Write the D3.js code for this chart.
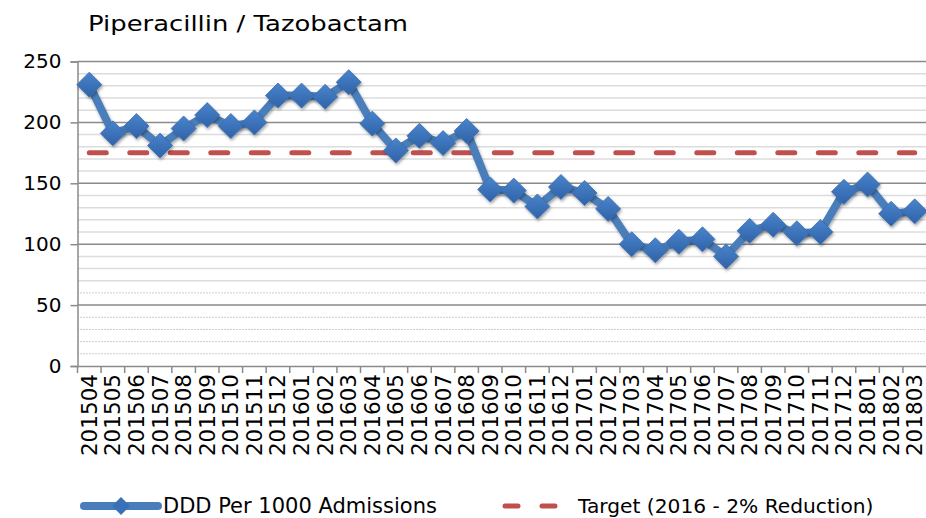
<!DOCTYPE html>
<html>
<head>
<meta charset="utf-8">
<script src="https://cdn.jsdelivr.net/npm/d3@7"></script>
<style>
  body { margin: 0; background: #fff; }
  svg { display: block; font-family: "DejaVu Sans", sans-serif; }
</style>
</head>
<body>
<div id="chart"></div>
<script>
// Data
const months = ["201504","201505","201506","201507","201508","201509","201510","201511","201512",
  "201601","201602","201603","201604","201605","201606","201607","201608","201609","201610","201611","201612",
  "201701","201702","201703","201704","201705","201706","201707","201708","201709","201710","201711","201712",
  "201801","201802","201803"];
const ddd = [231, 191, 197, 181, 195, 206, 197, 200, 222,
  222, 221, 233, 199, 177, 189, 183, 193, 145, 144, 131, 147,
  142, 129, 100, 95, 102, 104, 90, 111, 116, 109, 110, 143,
  149, 125, 127];
const target = 175;
const yTicks = [0, 50, 100, 150, 200, 250];
const solidMinor = [70, 80, 90, 110, 120, 130, 140, 160, 170, 180, 190, 210, 220, 230, 240];
const dottedMinor = [10, 20, 30, 40, 60];
const seriesNames = ["DDD Per 1000 Admissions", "Target (2016 - 2% Reduction)"];

// Chart constants
const width = 926, height = 518;
const plotLeft = 77.5, plotRight = 926.5, plotTop = 61.5, plotBottom = 366;

const svg = d3.select("#chart").append("svg")
  .attr("width", width)
  .attr("height", height);

const defs = svg.append("defs");
const grad = defs.append("linearGradient")
  .attr("id", "diamondFill")
  .attr("x1", 0).attr("y1", 0).attr("x2", 0).attr("y2", 1);
grad.append("stop").attr("offset", "0%").attr("stop-color", "#4a84cc");
grad.append("stop").attr("offset", "100%").attr("stop-color", "#2f62a8");
const shadow = defs.append("filter").attr("id", "shadow")
  .attr("x", "-50%").attr("y", "-50%").attr("width", "200%").attr("height", "200%");
shadow.append("feDropShadow")
  .attr("dx", 1).attr("dy", 2).attr("stdDeviation", 1.5)
  .attr("flood-color", "#000").attr("flood-opacity", 0.35);

const x = d3.scaleBand()
  .domain(months)
  .range([plotLeft, plotRight])
  .paddingInner(0)
  .paddingOuter(0);
const y = d3.scaleLinear()
  .domain([0, 250])
  .range([plotBottom, plotTop]);

// Title
svg.append("text")
  .attr("x", 88)
  .attr("y", 31)
  .attr("font-size", 21.5)
  .attr("fill", "#000")
  .attr("textLength", 320)
  .attr("lengthAdjust", "spacingAndGlyphs")
  .text("Piperacillin / Tazobactam");

// Gridlines
const grid = svg.append("g");
grid.selectAll("line.minor")
  .data(solidMinor)
  .join("line")
  .attr("class", "minor")
  .attr("x1", plotLeft).attr("x2", width)
  .attr("y1", d => y(d)).attr("y2", d => y(d))
  .attr("stroke", "#dcdcdc")
  .attr("stroke-width", 1.5);
grid.selectAll("line.dotted")
  .data(dottedMinor)
  .join("line")
  .attr("class", "dotted")
  .attr("x1", plotLeft).attr("x2", width)
  .attr("y1", d => y(d)).attr("y2", d => y(d))
  .attr("stroke", "#9a9a9a")
  .attr("stroke-width", 1)
  .attr("stroke-dasharray", "1 2");
grid.selectAll("line.major")
  .data(yTicks.filter(d => d > 0))
  .join("line")
  .attr("class", "major")
  .attr("x1", plotLeft).attr("x2", width)
  .attr("y1", d => y(d)).attr("y2", d => y(d))
  .attr("stroke", "#8a8a8a")
  .attr("stroke-width", 1.5);

// Y axis
const yAxis = d3.axisLeft(y)
  .tickValues(yTicks)
  .tickSize(7)
  .tickPadding(9);
const yg = svg.append("g")
  .attr("transform", `translate(${plotLeft},0)`)
  .call(yAxis);
yg.select(".domain").attr("stroke", "#8a8a8a").attr("stroke-width", 1.5);
yg.selectAll(".tick line").attr("stroke", "#8a8a8a").attr("stroke-width", 1.5);
yg.selectAll(".tick text")
  .attr("font-family", "DejaVu Sans")
  .attr("font-size", 20)
  .attr("fill", "#000");

// X axis
const xAxis = d3.axisBottom(x).tickSize(0).tickPadding(0);
const xg = svg.append("g")
  .attr("transform", `translate(0,${plotBottom})`)
  .call(xAxis);
xg.select(".domain").attr("stroke", "#8a8a8a").attr("stroke-width", 1.5);
xg.selectAll(".tick text")
  .attr("font-family", "DejaVu Sans")
  .attr("font-size", 21.5)
  .attr("fill", "#000")
  .attr("text-anchor", "end")
  .attr("dy", null)
  .attr("transform", "translate(0,8) rotate(-90)")
  .attr("x", 0)
  .attr("y", 0)
  .attr("dominant-baseline", "central");
xg.selectAll("line.boundary")
  .data(months)
  .join("line")
  .attr("class", "boundary")
  .attr("x1", d => x(d)).attr("x2", d => x(d))
  .attr("y1", 0).attr("y2", 7)
  .attr("stroke", "#8a8a8a")
  .attr("stroke-width", 1.5);

// Target line
svg.append("line")
  .attr("x1", x(months[0]) + x.bandwidth() / 2)
  .attr("x2", x(months[months.length - 1]) + x.bandwidth() / 2)
  .attr("y1", y(target))
  .attr("y2", y(target))
  .attr("stroke", "#c0504d")
  .attr("stroke-width", 5)
  .attr("stroke-linecap", "round")
  .attr("stroke-dasharray", "17 23.5");

// Series line
const line = d3.line()
  .x((d, i) => x(months[i]) + x.bandwidth() / 2)
  .y(d => y(d));
svg.append("path")
  .datum(ddd)
  .attr("d", line)
  .attr("fill", "none")
  .attr("stroke", "#4a7ebb")
  .attr("stroke-width", 8)
  .attr("stroke-linejoin", "round")
  .attr("filter", "url(#shadow)");

const diamond = r => `M0,${-r}L${r},0L0,${r}L${-r},0Z`;
svg.append("g")
  .selectAll("path")
  .data(ddd)
  .join("path")
  .attr("d", diamond(12.5))
  .attr("transform", (d, i) => `translate(${x(months[i]) + x.bandwidth() / 2},${y(d)})`)
  .attr("fill", "url(#diamondFill)")
  .attr("stroke", "#3b6fb0")
  .attr("stroke-width", 0.8)
  .attr("filter", "url(#shadow)");

// Legend
const legend = svg.append("g");
legend.append("line")
  .attr("x1", 84).attr("x2", 158)
  .attr("y1", 506).attr("y2", 506)
  .attr("stroke", "#4a7ebb")
  .attr("stroke-width", 8)
  .attr("stroke-linecap", "round");
legend.append("path")
  .attr("d", diamond(9))
  .attr("transform", "translate(121,506)")
  .attr("fill", "#3a70b8");
legend.append("text")
  .attr("x", 163).attr("y", 513)
  .attr("font-size", 21)
  .text(seriesNames[0]);
legend.append("line")
  .attr("x1", 505).attr("x2", 558)
  .attr("y1", 506).attr("y2", 506)
  .attr("stroke", "#c0504d")
  .attr("stroke-width", 5)
  .attr("stroke-linecap", "round")
  .attr("stroke-dasharray", "13 24");
legend.append("text")
  .attr("x", 578).attr("y", 513)
  .attr("font-size", 20.2)
  .text(seriesNames[1]);
</script>
</body>
</html>
